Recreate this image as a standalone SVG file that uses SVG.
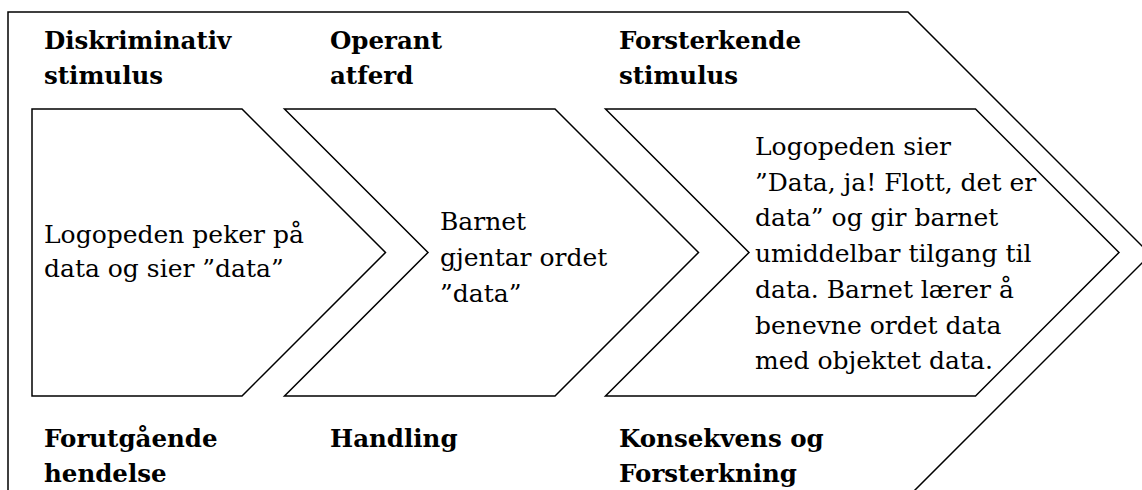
<svg xmlns="http://www.w3.org/2000/svg" width="1142" height="490" viewBox="0 0 1142 490">
<style>
.shape{fill:#fff;stroke:#000;stroke-width:1.5;stroke-linejoin:miter}
.h{font-family:"DejaVu Serif","Liberation Serif",serif;font-weight:bold;font-size:24.5px;fill:#000}
.t{font-family:"DejaVu Serif","Liberation Serif",serif;font-size:25px;fill:#000}
</style>
<rect width="1142" height="490" fill="#fff"/>
<g id="outer">
<path class="shape" d="M8,12 H908 L1150.5,254.5 L908,497 H8 Z"/>
</g>
<g id="col1">
<text class="h" x="44" y="49">Diskriminativ</text>
<text class="h" x="44" y="84">stimulus</text>
<path class="shape" d="M32,109 H242 L385.5,252.5 L242,396 H32 Z"/>
<text class="t" x="44" y="243">Logopeden peker på</text>
<text class="t" x="44" y="277">data og sier ”data”</text>
<text class="h" x="44" y="447">Forutgående</text>
<text class="h" x="44" y="482">hendelse</text>
</g>
<g id="col2">
<text class="h" x="330" y="49">Operant</text>
<text class="h" x="330" y="84">atferd</text>
<path class="shape" d="M284.5,109 H555 L698.5,252.5 L555,396 H284.5 L428,252.5 Z"/>
<text class="t" x="440" y="230">Barnet</text>
<text class="t" x="440" y="266">gjentar ordet</text>
<text class="t" x="440" y="301.5">”data”</text>
<text class="h" x="330" y="447">Handling</text>
</g>
<g id="col3">
<text class="h" x="619" y="49">Forsterkende</text>
<text class="h" x="619" y="84">stimulus</text>
<path class="shape" d="M605.5,109 H975.5 L1119,252.5 L975.5,396 H605.5 L749,252.5 Z"/>
<text class="t" x="755" y="155">Logopeden sier</text>
<text class="t" x="755" y="190.7">”Data, ja! Flott, det er</text>
<text class="t" x="755" y="226.4">data” og gir barnet</text>
<text class="t" x="755" y="262">umiddelbar tilgang til</text>
<text class="t" x="755" y="297.8">data. Barnet lærer å</text>
<text class="t" x="755" y="333.5">benevne ordet data</text>
<text class="t" x="755" y="369">med objektet data.</text>
<text class="h" x="619" y="447">Konsekvens og</text>
<text class="h" x="619" y="482">Forsterkning</text>
</g>
<g id="connectors"/>
</svg>
